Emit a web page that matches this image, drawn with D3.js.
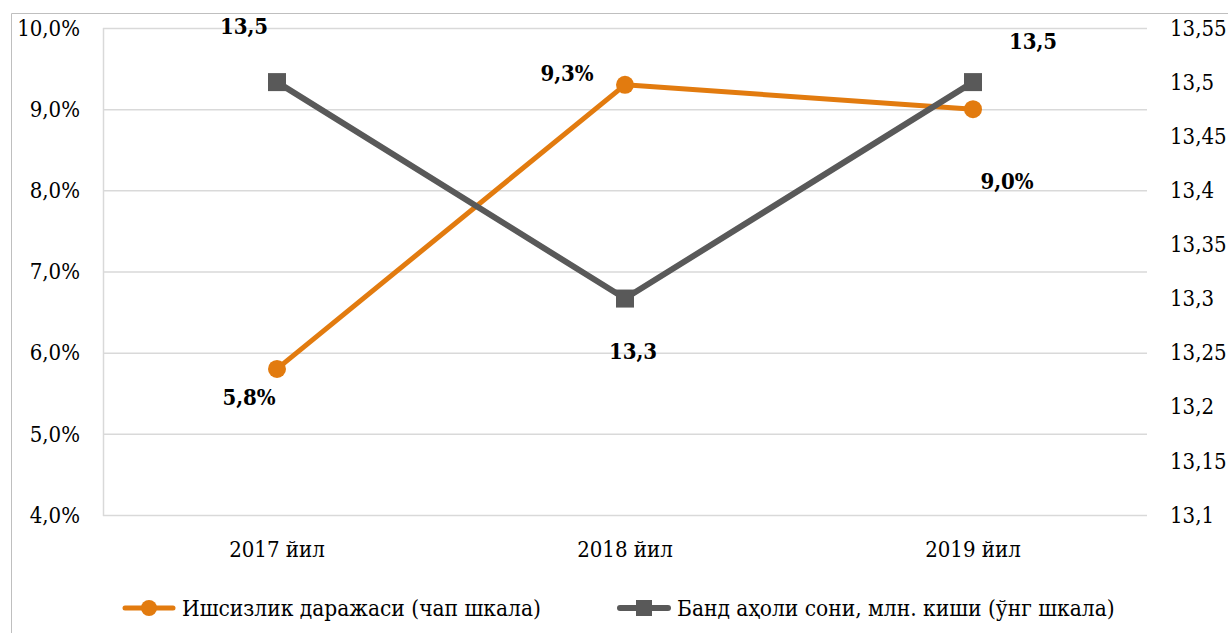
<!DOCTYPE html>
<html><head><meta charset="utf-8">
<script src="https://cdn.jsdelivr.net/npm/d3@7"></script>
<style>body{margin:0;background:#fff}svg{display:block}svg text{font-family:"DejaVu Serif Condensed","DejaVu Serif";font-stretch:condensed;}</style>
</head><body>
<svg id="c" width="1228" height="633"></svg>
<script>
const categories = ["2017 йил","2018 йил","2019 йил"];
const unemployment = [5.8, 9.3, 9.0];
const employed = [13.5, 13.3, 13.5];
const leftTicks = [4,5,6,7,8,9,10];
const rightTicks = [13.1,13.15,13.2,13.25,13.3,13.35,13.4,13.45,13.5,13.55];
const seriesNames = ["Ишсизлик даражаси (чап шкала)","Банд аҳоли сони, млн. киши (ўнг шкала)"];
const unempLabels = ["5,8%","9,3%","9,0%"];
const empLabels = ["13,5","13,3","13,5"];

const svg = d3.select("#c");
const L = 103, R = 1147, T = 28, B = 515;
const orange = "#E27B0F", gray = "#595959";

svg.append("path").attr("d","M11.5,633 L11.5,13.5 L1228,13.5").attr("fill","none").attr("stroke","#bfbfbf").attr("stroke-width",1);

const x = d3.scaleBand().domain(categories).range([L,R]);
const yL = d3.scaleLinear().domain([4,10]).range([B,T]);
const yR = d3.scaleLinear().domain([13.1,13.55]).range([B,T]);

svg.append("g").selectAll("line").data(leftTicks).join("line")
  .attr("x1",L).attr("x2",R).attr("y1",d=>yL(d)+0.5).attr("y2",d=>yL(d)+0.5)
  .attr("stroke","#d9d9d9").attr("stroke-width",1.5);
svg.append("line").attr("x1",L+0.5).attr("x2",L+0.5).attr("y1",T).attr("y2",B+1).attr("stroke","#d9d9d9").attr("stroke-width",1.5);

svg.append("g").selectAll("text").data(leftTicks).join("text")
  .attr("x",80).attr("y",d=>yL(d)).attr("dy","0.35em").attr("text-anchor","end")
  .attr("font-size",22).attr("fill","#000")
  .text(d=>d.toFixed(1).replace(".",",")+"%");
svg.append("g").selectAll("text").data(rightTicks).join("text")
  .attr("x",1170).attr("y",d=>yR(d)).attr("dy","0.35em").attr("text-anchor","start")
  .attr("font-size",22).attr("fill","#000")
  .text(d=>String(+d.toFixed(2)).replace(".",","));
svg.append("g").selectAll("text").data(categories).join("text")
  .attr("x",d=>x(d)+x.bandwidth()/2).attr("y",549).attr("dy","0.35em").attr("text-anchor","middle")
  .attr("font-size",22).attr("fill","#000").text(d=>d);

const cx = d=>x(d)+x.bandwidth()/2;

svg.append("path").datum(categories.map((c,i)=>[cx(c),yL(unemployment[i])]))
  .attr("d",d3.line()).attr("fill","none").attr("stroke",orange).attr("stroke-width",5).attr("stroke-linejoin","round");
svg.append("path").datum(categories.map((c,i)=>[cx(c),yR(employed[i])]))
  .attr("d",d3.line()).attr("fill","none").attr("stroke",gray).attr("stroke-width",6).attr("stroke-linejoin","round");

svg.append("g").selectAll("circle").data(categories).join("circle")
  .attr("cx",d=>cx(d)).attr("cy",(d,i)=>yL(unemployment[i])).attr("r",9).attr("fill",orange);
svg.append("g").selectAll("rect").data(categories).join("rect")
  .attr("x",d=>cx(d)-9).attr("y",(d,i)=>yR(employed[i])-9).attr("width",18).attr("height",18).attr("fill",gray);

const uOff = [[-28,28],[-58,-12],[34,72]];
const eOff = [[-33,-56],[8,53],[60,-41]];
svg.append("g").selectAll("text").data(categories).join("text")
  .attr("x",(d,i)=>cx(d)+uOff[i][0]).attr("y",(d,i)=>yL(unemployment[i])+uOff[i][1]).attr("dy","0.35em")
  .attr("text-anchor","middle").attr("font-size",22).attr("font-weight","bold").text((d,i)=>unempLabels[i]);
svg.append("g").selectAll("text").data(categories).join("text")
  .attr("x",(d,i)=>cx(d)+eOff[i][0]).attr("y",(d,i)=>yR(employed[i])+eOff[i][1]).attr("dy","0.35em")
  .attr("text-anchor","middle").attr("font-size",22).attr("font-weight","bold").text((d,i)=>empLabels[i]);

const lg = svg.append("g");
const items = [{x:125,c:orange,shape:"circle",t:seriesNames[0]},{x:620,c:gray,shape:"rect",t:seriesNames[1]}];
items.forEach(it=>{
  const ly = 608;
  lg.append("line").attr("x1",it.x).attr("x2",it.x+48).attr("y1",ly).attr("y2",ly).attr("stroke",it.c).attr("stroke-width",it.shape==="rect"?6:5).attr("stroke-linecap","round");
  if(it.shape==="circle") lg.append("circle").attr("cx",it.x+24).attr("cy",ly).attr("r",8).attr("fill",it.c);
  else lg.append("rect").attr("x",it.x+16).attr("y",ly-8).attr("width",16).attr("height",16).attr("fill",it.c);
  lg.append("text").attr("x",it.x+57).attr("y",ly).attr("dy","0.35em").attr("font-size",22.5).text(it.t);
});
</script>
</body></html>
